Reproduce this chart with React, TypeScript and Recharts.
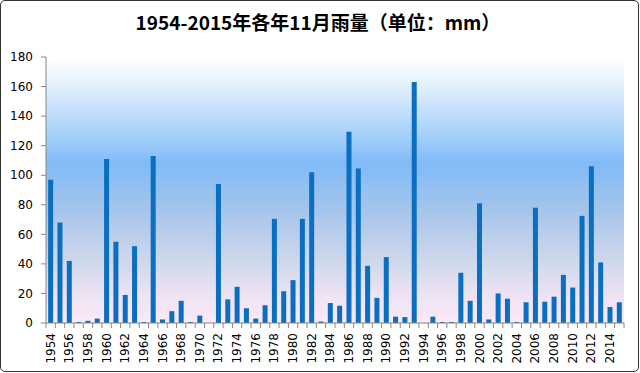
import React from "react";
import { BarChart, Bar, XAxis, YAxis, CartesianGrid } from "recharts";

const years: string[] = [
  "1954","1955","1956","1957","1958","1959","1960","1961","1962","1963",
  "1964","1965","1966","1967","1968","1969","1970","1971","1972","1973",
  "1974","1975","1976","1977","1978","1979","1980","1981","1982","1983",
  "1984","1985","1986","1987","1988","1989","1990","1991","1992","1993",
  "1994","1995","1996","1997","1998","1999","2000","2001","2002","2003",
  "2004","2005","2006","2007","2008","2009","2010","2011","2012","2013",
  "2014","2015",
];

const rainfall: number[] = [
  97, 68, 42, 0.7, 1.5, 3, 111, 55, 19, 52,
  0.7, 113, 2.4, 8, 15, 0.7, 5, 0, 94, 16,
  24.5, 10, 3, 12, 70.5, 21.5, 29, 70.5, 102, 1,
  13.5, 11.7, 129.5, 104.5, 38.7, 17, 44.6, 4.3, 4, 163,
  0, 4.3, 0.7, 0.7, 34, 15, 81, 2.4, 20, 16.4,
  0.7, 14, 78, 14.4, 17.8, 32.6, 24, 72.5, 106, 41,
  10.8, 14,
];

const yTicks: number[] = [0, 20, 40, 60, 80, 100, 120, 140, 160, 180];

const title = "1954-2015年各年11月雨量（单位：mm）";

const data = years.map((y, i) => ({ year: y, value: rainfall[i] }));

const AXIS_COLOR = "#868686";
const FONT = "'DejaVu Sans', sans-serif";

const XTick = (props: any) => {
  const { x, y, payload, index } = props;
  const off = payload && payload.offset ? payload.offset : 0;
  const last = index === years.length - 1;
  const ty = y + 2;
  return (
    <g>
      <line x1={x - off} y1={y - 8} x2={x - off} y2={y - 3} stroke={AXIS_COLOR} strokeWidth={1} />
      {last && (
        <line x1={x + off} y1={y - 8} x2={x + off} y2={y - 3} stroke={AXIS_COLOR} strokeWidth={1} />
      )}
      {index % 2 === 0 && (
        <text
          x={x}
          y={ty}
          transform={`rotate(-90, ${x}, ${ty})`}
          textAnchor="end"
          dominantBaseline="central"
          fontSize={12}
          fontFamily={FONT}
          fill="#000"
        >
          {payload.value}
        </text>
      )}
    </g>
  );
};

export default function App() {
  return (
    <div style={{ position: "absolute", left: 0, top: 0, width: 640, height: 373, background: "#fff" }}>
      <div
        style={{
          position: "absolute",
          left: 0,
          top: 0,
          width: 639,
          height: 372,
          boxSizing: "border-box",
          border: "1.5px solid #333",
          borderRadius: 5,
        }}
      />
      <div
        style={{
          position: "absolute",
          left: 0,
          top: 9,
          width: 636,
          textAlign: "center",
          fontFamily: "'Noto Sans CJK SC', sans-serif",
          fontWeight: 700,
          fontSize: 19,
          lineHeight: "26px",
          color: "#000",
        }}
      >
        {title}
      </div>
      <div style={{ position: "absolute", left: 0, top: 0 }}>
        <BarChart
          width={640}
          height={373}
          data={data}
          margin={{ top: 57, right: 16, bottom: 0, left: 0 }}
          barCategoryGap="23%"
        >
          <defs>
            <linearGradient id="bgGrad" x1="0" y1="0" x2="0" y2="1">
              <stop offset="0" stopColor="#FFFFFF" />
              <stop offset="0.1" stopColor="#E6F1FD" />
              <stop offset="0.3" stopColor="#A3CFFA" />
              <stop offset="0.4" stopColor="#80BBF7" />
              <stop offset="0.58" stopColor="#A6C5EB" />
              <stop offset="0.75" stopColor="#CBD6EB" />
              <stop offset="0.9" stopColor="#EEE3F4" />
              <stop offset="1" stopColor="#FCE9F7" />
            </linearGradient>
          </defs>
          <CartesianGrid fill="url(#bgGrad)" stroke="none" horizontal={false} vertical={false} />
          <XAxis
            dataKey="year"
            interval={0}
            height={50}
            tickLine={false}
            axisLine={{ stroke: AXIS_COLOR }}
            tick={<XTick />}
            tickMargin={0}
            tickSize={8}
          />
          <YAxis
            width={46}
            domain={[0, 180]}
            ticks={yTicks}
            interval={0}
            tickSize={5}
            tickMargin={8}
            axisLine={{ stroke: AXIS_COLOR }}
            tickLine={{ stroke: AXIS_COLOR }}
            tick={{ fontSize: 12, fontFamily: FONT, fill: "#000" }}
          />
          <Bar dataKey="value" fill="#0A6EC1" isAnimationActive={false} />
        </BarChart>
      </div>
    </div>
  );
}
